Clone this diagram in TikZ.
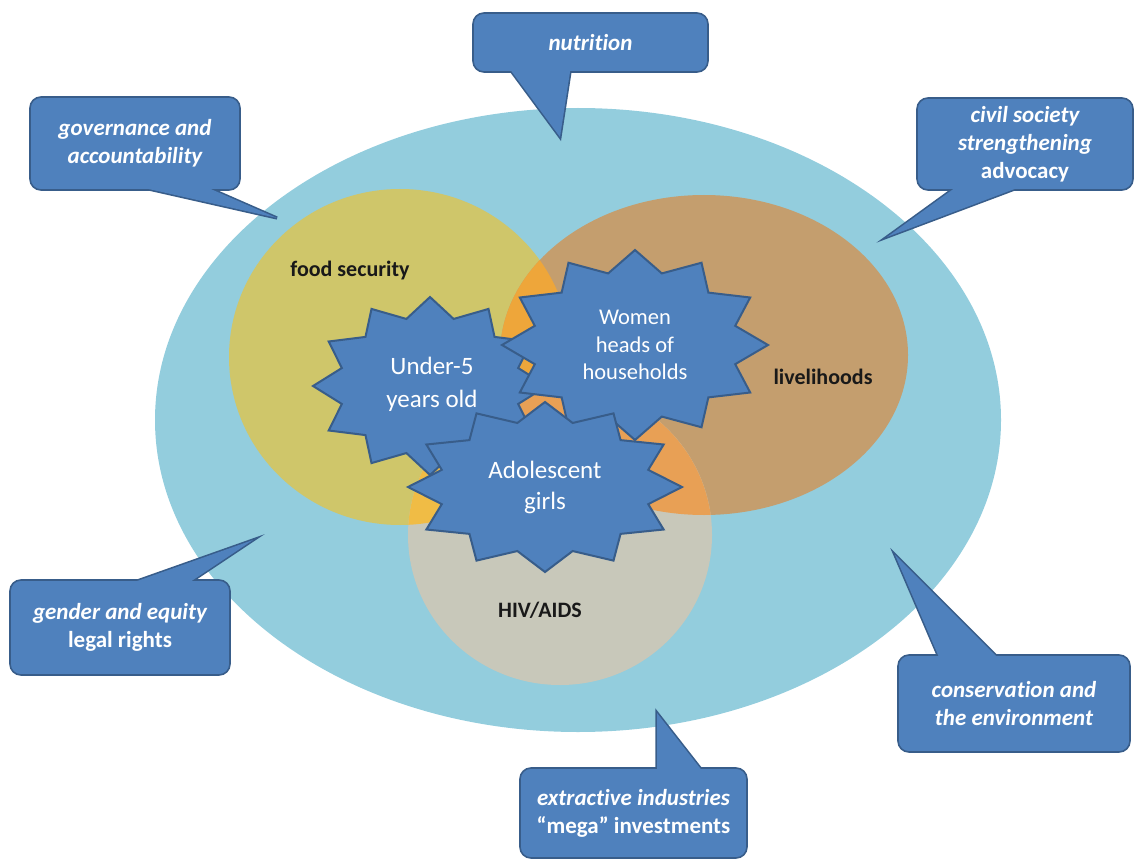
\documentclass[tikz,border=0pt]{standalone}
\usepackage{fontspec}
\setmainfont{Carlito}[Ligatures={TeX,NoCommon}]
\usetikzlibrary{calc}

\definecolor{sea}{HTML}{93CDDD}
\definecolor{foodc}{HTML}{CFC66A}
\definecolor{livec}{HTML}{C49E6E}
\definecolor{hivc}{HTML}{C8C8BA}
\definecolor{foodlive}{HTML}{EEA63A}
\definecolor{foodhiv}{HTML}{F0BC45}
\definecolor{livehiv}{HTML}{E8A055}
\definecolor{boxblue}{HTML}{4F81BD}
\definecolor{boxline}{HTML}{385D8A}

\tikzset{
  bubble/.style={fill=boxblue, draw=boxline, line width=1.6pt, rounded corners=11pt,
    inner sep=0pt, text=white, align=center, font=\fontsize{23}{28}\selectfont\bfseries},
  tailline/.style={draw=boxline, line width=3.2pt},
  tailfill/.style={fill=boxblue},
  burst/.style={fill=boxblue, draw=boxline, line width=2pt},
  bursttext/.style={text=white, align=center},
  ringlabel/.style={font=\fontsize{22}{26}\selectfont\bfseries, text=black!90},
}

% 12-point star: centre, x radius, y radius
\newcommand{\burst}[4]{%
  \filldraw[burst] plot[samples at={0,...,23}]
    ({#1+#3*(1-0.22*mod(\x,2))*cos(15*\x)}, {#2-#4*(1-0.22*mod(\x,2))*sin(15*\x)}) -- cycle;}
% callout tail: base, tip, base
\newcommand{\tailback}[3]{%
  \draw[tailline] ($(#1)!-5pt!(#2)$) -- (#2) -- ($(#3)!-5pt!(#2)$);}
\newcommand{\tailfront}[3]{%
  \fill[tailfill] ($(#1)!-5pt!(#2)$) -- (#2) -- ($(#3)!-5pt!(#2)$) -- cycle;}

\begin{document}
\begin{tikzpicture}[x=1pt, y=-1pt]
    \useasboundingbox (0,0) rectangle (1137,861);

    % ===== field and rings =====
    \fill[sea] (578,420) ellipse [x radius=423, y radius=312];
    \fill[foodc] (400,357) ellipse [x radius=171, y radius=168];
    \fill[livec] (704,355) ellipse [x radius=204, y radius=160];
    \fill[hivc] (560,535) ellipse [x radius=152, y radius=150];
    \begin{scope}
        \clip (400,357) ellipse [x radius=171, y radius=168];
        \fill[foodlive] (704,355) ellipse [x radius=204, y radius=160];
        \fill[foodhiv] (560,535) ellipse [x radius=152, y radius=150];
    \end{scope}
    \begin{scope}
        \clip (704,355) ellipse [x radius=204, y radius=160];
        \fill[livehiv] (560,535) ellipse [x radius=152, y radius=150];
    \end{scope}

    \node[ringlabel] (food) at (350,271) {food security};
    \node[ringlabel] (live) at (823,377) {livelihoods};
    \node[ringlabel] (hiv) at (540,610) {HIV/AIDS};

    % ===== target groups =====
    \burst{430}{386}{117}{89}
    \node[bursttext, font=\fontsize{25}{33}\selectfont] (under) at (432,384) {Under-5\\years old};
    \burst{635}{345}{133}{95}
    \node[bursttext, font=\fontsize{22.5}{27.5}\selectfont] (women) at (635,345) {Women\\heads of\\households};
    \burst{545}{487}{137}{85}
    \node[bursttext, font=\fontsize{25}{31}\selectfont] (girls) at (545,487) {Adolescent\\girls};

    % ===== callouts =====
    \tailback{512,72}{560,137}{570,72}
    \node[bubble, minimum width=235pt, minimum height=59pt] (nutri) at (590.5,42.5) {\itshape nutrition};
    \tailfront{512,72}{560,137}{570,72}

    \tailback{153,190}{277,218}{213,190}
    \node[bubble, minimum width=210pt, minimum height=93pt] (gov) at (135,143.5)
        {{\itshape governance and}\\{\itshape accountability}};
    \tailfront{153,190}{277,218}{213,190}

    \tailback{952,190}{887,237}{1012,190}
    \node[bubble, minimum width=216pt, minimum height=92pt] (civil) at (1025,144)
        {{\itshape civil society}\\{\itshape strengthening}\\advocacy};
    \tailfront{952,190}{887,237}{1012,190}

    \tailback{140,580}{253,540}{193,580}
    \node[bubble, minimum width=220pt, minimum height=95pt] (gender) at (120,627.5)
        {{\itshape gender and equity}\\legal rights};
    \tailfront{140,580}{253,540}{193,580}

    \tailback{938,655}{895,555}{995,655}
    \node[bubble, minimum width=232pt, minimum height=97pt] (conserv) at (1014,703.5)
        {{\itshape conservation and}\\{\itshape the environment}};
    \tailfront{938,655}{895,555}{995,655}

    \tailback{657,768}{657,713}{700,768}
    \node[bubble, minimum width=227pt, minimum height=90pt] (extract) at (633.5,813)
        {{\itshape extractive industries}\\“mega” investments};
    \tailfront{657,768}{657,713}{700,768}
\end{tikzpicture}
\end{document}
